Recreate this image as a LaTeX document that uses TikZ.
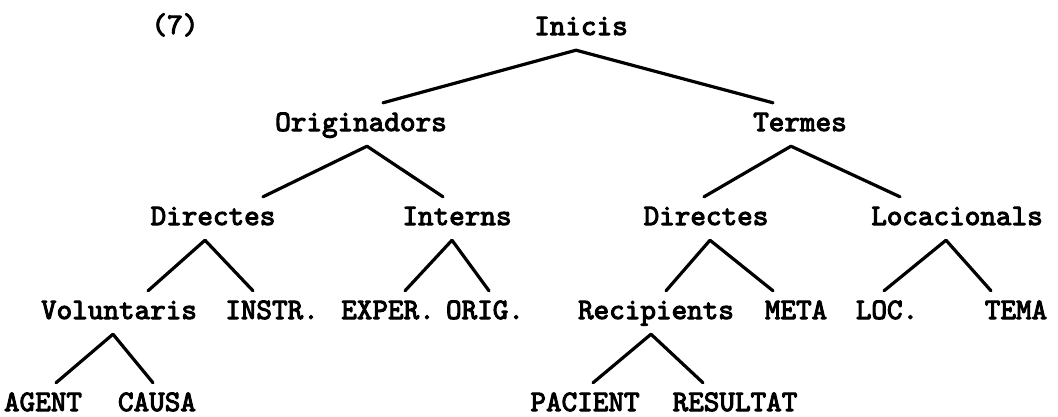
\documentclass[tikz,border=0pt]{standalone}
\usepackage{fontspec}
\newfontfamily\treefont{lmmono10-regular.otf}[FakeBold=3.5]
\usetikzlibrary{arrows}

\begin{document}
\begin{tikzpicture}[x=1pt,y=-1pt,line join=bevel,line cap=round,
  lbl/.style={font=\fontsize{29.7}{34}\selectfont\treefont\bfseries,anchor=base,
    inner xsep=0pt,inner ysep=5pt,text height=23pt,text depth=10pt},
  branch/.style={line width=3.2pt}]
\pgfsetcolor{black}
\useasboundingbox (0,0) rectangle (1058,416);

% Node: (7)
\node[lbl] (ex) at (175,34) {(7)};

% Node: Inicis
\node[lbl] (ini) at (581,35) {Inicis};

% Nodes: level 1
\node[lbl] (ori) at (361,131) {Originadors};
\node[lbl] (ter) at (800,131) {Termes};

% Nodes: level 2
\node[lbl] (dirO) at (213,225) {Directes};
\node[lbl] (int)  at (457,225) {Interns};
\node[lbl] (dirT) at (706,225) {Directes};
\node[lbl] (loc)  at (957,225) {Locacionals};

% Nodes: level 3
\node[lbl] (vol) at (119,319)  {Voluntaris};
\node[lbl] (ins) at (272,319)  {INSTR.};
\node[lbl] (exp) at (388,319)  {EXPER.};
\node[lbl] (org) at (485,319)  {ORIG.};
\node[lbl] (rec) at (656,319)  {Recipients};
\node[lbl] (met) at (796,319)  {META};
\node[lbl] (lc)  at (887,319)  {LOC.};
\node[lbl] (tem) at (1016,319) {TEMA};

% Nodes: level 4
\node[lbl] (age) at (43,411)  {AGENT};
\node[lbl] (cau) at (157,411) {CAUSA};
\node[lbl] (pac) at (585,411) {PACIENT};
\node[lbl] (res) at (735,411) {RESULTAT};

% Edge: Inicis -> Originadors, Termes
\draw[branch] ([xshift=22pt]ori.north) -- ([xshift=-5pt]ini.south) -- ([xshift=-27pt]ter.north);

% Edge: Originadors -> Directes, Interns
\draw[branch] ([xshift=50pt]dirO.north) -- ([xshift=6pt]ori.south) -- ([xshift=-14pt]int.north);

% Edge: Termes -> Directes, Locacionals
\draw[branch] ([xshift=-2pt]dirT.north) -- ([xshift=-9pt]ter.south) -- ([xshift=-57pt]loc.north);

% Edge: Directes -> Voluntaris, INSTR.
\draw[branch] ([xshift=29pt]vol.north) -- ([xshift=-8pt]dirO.south) -- ([xshift=-19pt]ins.north);

% Edge: Interns -> EXPER., ORIG.
\draw[branch] ([xshift=17pt]exp.north) -- ([xshift=-5pt]int.south) -- ([xshift=4pt]org.north);

% Edge: Directes -> Recipients, META
\draw[branch] ([xshift=10pt]rec.north) -- ([xshift=4pt]dirT.south) -- ([xshift=-23pt]met.north);

% Edge: Locacionals -> LOC., TEMA
\draw[branch] ([xshift=-3pt]lc.north) -- ([xshift=-11pt]loc.south) -- ([xshift=-25pt]tem.north);

% Edge: Voluntaris -> AGENT, CAUSA
\draw[branch] ([xshift=13pt]age.north) -- ([xshift=-6pt]vol.south) -- ([xshift=-4pt]cau.north);

% Edge: Recipients -> PACIENT, RESULTAT
\draw[branch] ([xshift=8pt]pac.north) -- ([xshift=-5pt]rec.south) -- ([xshift=-32pt]res.north);

\end{tikzpicture}
\end{document}
